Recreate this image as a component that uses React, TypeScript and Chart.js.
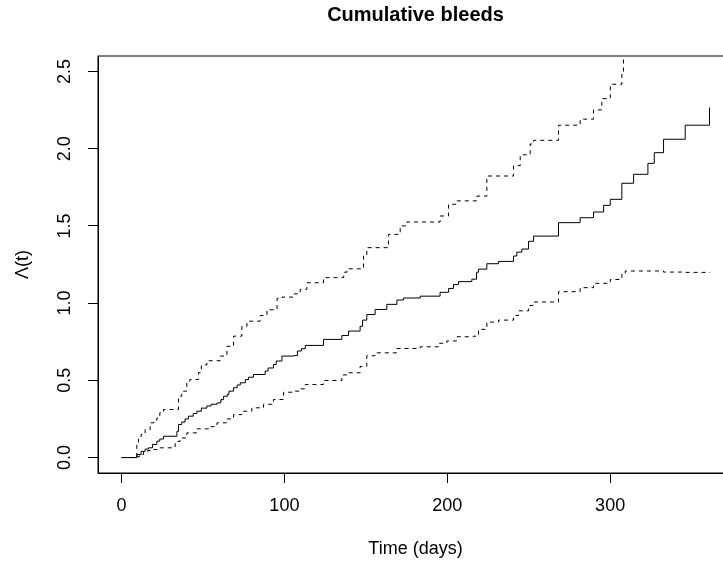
import React, { useEffect, useRef } from 'react';
import { Chart, registerables } from 'chart.js';

Chart.register(...registerables);

// Cumulative estimate (jump day, new level)
const estDays = [0, 9.4, 12, 14.5, 16.6, 19, 21.7, 23.5, 25.8, 34, 35, 37, 39, 41.1, 44, 46.3, 49, 52.4, 55, 58.6, 61, 62.6, 65, 66, 68.8, 71, 72.9, 76, 78, 81, 88.2, 90, 93.3, 95, 98.5, 105.6, 108, 110.5, 112.8, 124, 135.3, 139.4, 146.5, 148, 150.6, 155.7, 162.9, 169.1, 173.1, 183.4, 195.6, 200.8, 203.8, 206.9, 215.1, 218, 219.2, 224.3, 231.5, 240.7, 242.7, 245.8, 249.9, 253, 268.3, 281.6, 289.8, 296, 300.1, 307.2, 314.4, 323.2, 327.1, 332.8, 346.1, 361];
const estVals = [0, 0.02, 0.04, 0.055, 0.063, 0.085, 0.106, 0.12, 0.138, 0.17, 0.214, 0.23, 0.25, 0.268, 0.285, 0.3, 0.32, 0.334, 0.345, 0.354, 0.375, 0.397, 0.41, 0.43, 0.452, 0.47, 0.484, 0.505, 0.52, 0.538, 0.56, 0.58, 0.603, 0.625, 0.657, 0.66, 0.69, 0.705, 0.726, 0.765, 0.79, 0.819, 0.85, 0.89, 0.926, 0.959, 0.992, 1.02, 1.033, 1.045, 1.07, 1.095, 1.12, 1.139, 1.155, 1.2, 1.22, 1.255, 1.27, 1.305, 1.33, 1.35, 1.4, 1.434, 1.521, 1.553, 1.59, 1.633, 1.672, 1.776, 1.834, 1.905, 1.974, 2.061, 2.152, 2.266];

// Upper confidence band
const upperDays = [0, 9.4, 10.4, 12, 14.5, 17.6, 20, 21.7, 23.5, 25.8, 35, 37, 38.1, 40.1, 42, 47.3, 49, 52.4, 60.6, 64.7, 68.8, 73.9, 77, 85.2, 89.3, 95.5, 98.5, 105.6, 109.7, 113.8, 124, 136.4, 138.4, 148.6, 150.6, 163.9, 171.1, 175.2, 195.6, 200.8, 205.9, 218.2, 224.3, 240.7, 244.8, 250.9, 253, 268.3, 281.6, 289.8, 294.9, 300.1, 307.2, 308.2];
const upperVals = [0, 0.09, 0.12, 0.15, 0.181, 0.225, 0.24, 0.256, 0.29, 0.311, 0.397, 0.42, 0.43, 0.495, 0.505, 0.55, 0.6, 0.627, 0.657, 0.72, 0.786, 0.85, 0.883, 0.92, 0.957, 1.03, 1.039, 1.06, 1.089, 1.132, 1.165, 1.2, 1.222, 1.305, 1.359, 1.445, 1.5, 1.525, 1.564, 1.64, 1.662, 1.693, 1.823, 1.89, 1.96, 2.03, 2.054, 2.152, 2.191, 2.251, 2.324, 2.417, 2.49, 3.2];

// Lower confidence band
const lowerDays = [0, 9.4, 11, 13.5, 16, 19.6, 22, 32.9, 34.5, 36, 40.1, 46.3, 54.4, 58.6, 64.7, 68.8, 73.9, 80, 87.2, 93.3, 99.5, 105.6, 109.7, 112.8, 124, 135.3, 139.4, 146.5, 150.6, 155.7, 169.1, 183.4, 194.6, 199.7, 205.9, 216.1, 219.2, 224.3, 231.5, 240.7, 243.8, 249.9, 253, 268.3, 281.6, 289.8, 300.1, 307.2, 309.3, 332.8, 345.1, 361];
const lowerVals = [0, 0.005, 0.02, 0.035, 0.045, 0.052, 0.063, 0.09, 0.105, 0.127, 0.16, 0.186, 0.2, 0.225, 0.25, 0.278, 0.3, 0.322, 0.345, 0.376, 0.423, 0.43, 0.445, 0.473, 0.499, 0.535, 0.549, 0.59, 0.659, 0.678, 0.706, 0.717, 0.74, 0.755, 0.782, 0.786, 0.83, 0.877, 0.89, 0.92, 0.95, 0.985, 1.007, 1.074, 1.1, 1.128, 1.153, 1.19, 1.208, 1.201, 1.199, 1.195];

const xTicks = [0, 100, 200, 300];
const yTicks = [0, 0.5, 1, 1.5, 2, 2.5];
const yTickLabels = ['0.0', '0.5', '1.0', '1.5', '2.0', '2.5'];

const FONT = 'Liberation Sans, Arial, Helvetica, sans-serif';

function pts(xs: number[], ys: number[]) {
  return xs.map((x, i) => ({ x, y: ys[i] }));
}

export default function App() {
  const ref = useRef<HTMLCanvasElement>(null);

  useEffect(() => {
    if (!ref.current) return;
    const boxPlugin = {
      id: 'rbox',
      afterDraw(chart: any) {
        const { ctx, chartArea: a } = chart;
        ctx.save();
        ctx.strokeStyle = '#000';
        ctx.lineWidth = 1;
        ctx.strokeRect(a.left, a.top, a.right - a.left, a.bottom - a.top);
        ctx.restore();
      },
    };
    const lineBase = {
      borderColor: '#000',
      borderWidth: 1,
      pointRadius: 0,
      stepped: 'before' as const,
      tension: 0,
      fill: false,
    };
    const chart = new Chart(ref.current, {
      type: 'line',
      data: {
        datasets: [
          { ...lineBase, label: 'estimate', data: pts(estDays, estVals) },
          { ...lineBase, label: 'upper', data: pts(upperDays, upperVals), borderDash: [4, 4] },
          { ...lineBase, label: 'lower', data: pts(lowerDays, lowerVals), borderDash: [4, 4] },
        ],
      },
      options: {
        responsive: false,
        devicePixelRatio: 1,
        animation: false,
        layout: { padding: { left: 0, right: 7, top: 0, bottom: 0 } },
        plugins: {
          legend: { display: false },
          tooltip: { enabled: false },
          title: {
            display: true,
            text: 'Cumulative bleeds',
            color: '#000',
            fullSize: false,
            font: { family: FONT, size: 20, weight: 'bold' },
            padding: { top: 3, bottom: 29 },
          },
        },
        scales: {
          x: {
            type: 'linear',
            min: -14.44,
            max: 375.44,
            afterBuildTicks: (s: any) => {
              s.ticks = xTicks.map((v) => ({ value: v }));
            },
            afterFit: (s: any) => {
              s.height = 90;
            },
            ticks: {
              color: '#000',
              font: { family: FONT, size: 18 },
              padding: 12,
              maxRotation: 0,
              autoSkip: false,
              callback: (v: any) => String(v),
            },
            grid: {
              drawOnChartArea: false,
              drawTicks: true,
              tickLength: 10,
              color: '#000',
              tickColor: '#000',
            },
            border: { display: true, color: '#000', width: 1 },
            title: {
              display: true,
              text: 'Time (days)',
              color: '#000',
              font: { family: FONT, size: 18 },
              padding: { top: 0, bottom: 3 },
            },
          },
          y: {
            type: 'linear',
            min: -0.1,
            max: 2.6,
            afterBuildTicks: (s: any) => {
              s.ticks = yTicks.map((v) => ({ value: v }));
            },
            afterFit: (s: any) => {
              s.width = 98;
            },
            ticks: {
              color: '#000',
              font: { family: FONT, size: 18 },
              padding: 10,
              minRotation: 90,
              maxRotation: 90,
              crossAlign: 'center',
              autoSkip: false,
              callback: (v: any) => {
                const i = yTicks.indexOf(Number(v));
                return i >= 0 ? yTickLabels[i] : '';
              },
            },
            grid: {
              drawOnChartArea: false,
              drawTicks: true,
              tickLength: 10,
              color: '#000',
              tickColor: '#000',
            },
            border: { display: true, color: '#000', width: 1 },
            title: {
              display: true,
              text: 'Λ(t)',
              color: '#000',
              font: { family: FONT, size: 18 },
              padding: { top: 12, bottom: 0 },
            },
          },
        },
      },
      plugins: [boxPlugin],
    } as any);
    return () => chart.destroy();
  }, []);

  return (
    <div
      style={{
        position: 'absolute',
        left: 0,
        top: 0,
        width: 723,
        height: 563,
        overflow: 'hidden',
        background: '#fff',
      }}
    >
      <canvas ref={ref} width={740} height={563} style={{ display: 'block' }} />
    </div>
  );
}
